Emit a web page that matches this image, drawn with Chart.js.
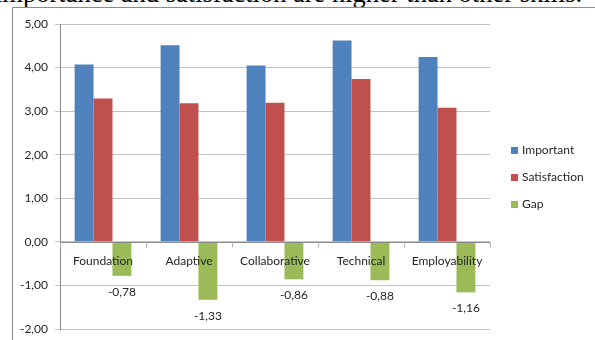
<!DOCTYPE html>
<html><head><meta charset="utf-8">
<script src="https://cdn.jsdelivr.net/npm/chart.js@4/dist/chart.umd.min.js"></script>
<style>
html,body{margin:0;padding:0;background:#fff;overflow:hidden}
#wrap{position:relative;width:595px;height:340px;overflow:hidden}
#cap{position:absolute;left:-5px;top:-20px;font:26.5px "Liberation Serif","Times New Roman",serif;line-height:26.5px;white-space:nowrap;color:#000}
canvas{position:absolute;left:0;top:0}
</style></head><body>
<div id="wrap"><div id="cap">importance and satisfaction are higher than other skills.</div><canvas id="c" width="595" height="340"></canvas></div>
<script>
const categories = ['Foundation', 'Adaptive', 'Collaborative', 'Technical', 'Employability'];
const important = [4.07, 4.51, 4.05, 4.62, 4.24];
const satisfaction = [3.29, 3.18, 3.19, 3.74, 3.08];
const gap = [-0.78, -1.33, -0.86, -0.88, -1.16];
const yTicks = [-2, -1, 0, 1, 2, 3, 4, 5];

const FONT = 'Lato, "Noto Sans", sans-serif';
const TXT = '#262626';
const fmt = v => v.toFixed(2).replace('.', ',');

const framePlugin = {
  id: 'frame',
  beforeDraw(chart) {
    const c = chart.ctx;
    c.save();
    c.strokeStyle = '#8c8c8c';
    c.lineWidth = 1;
    c.beginPath();
    c.moveTo(12.5, 340); c.lineTo(12.5, 7.5); c.lineTo(595, 7.5);
    c.stroke();
    c.restore();
  }
};

const xLabelPlugin = {
  id: 'xlabels',
  afterDatasetsDraw(chart) {
    const c = chart.ctx;
    const xs = chart.scales.x, ys = chart.scales.y;
    const y0 = ys.getPixelForValue(0);
    c.save();
    c.strokeStyle = '#8a8a8a';
    c.lineWidth = 1;
    c.beginPath();
    c.moveTo(chart.chartArea.left, Math.round(y0) + 0.5);
    c.lineTo(chart.chartArea.right, Math.round(y0) + 0.5);
    c.stroke();
    const half = (xs.getPixelForValue(1) - xs.getPixelForValue(0)) / 2;
    c.strokeStyle = '#b0b0b0';
    c.beginPath();
    for (let i = 0; i <= categories.length; i++) {
      const x = Math.round(xs.getPixelForValue(0) - half + i * 2 * half) + 0.5;
      c.moveTo(x, Math.round(y0) + 0.5);
      c.lineTo(x, Math.round(y0) + 5.5);
    }
    c.stroke();
    c.fillStyle = TXT;
    c.font = '12px ' + FONT;
    c.textAlign = 'center';
    c.textBaseline = 'middle';
    categories.forEach((lab, i) => {
      c.fillText(lab, xs.getPixelForValue(i), y0 + 19);
    });
    const meta = chart.getDatasetMeta(2);
    meta.data.forEach((bar, i) => {
      c.fillText(fmt(gap[i]), bar.x, bar.y + 16);
    });
    c.restore();
  },
  afterDraw(chart) {
    const c = chart.ctx;
    const ca = chart.chartArea;
    const mid = (ca.top + ca.bottom) / 2;
    c.save();
    c.font = '12px ' + FONT;
    c.textAlign = 'left';
    c.textBaseline = 'middle';
    chart.data.datasets.forEach((ds, i) => {
      const y = mid + (i - 1) * 27;
      c.fillStyle = ds.backgroundColor;
      c.fillRect(ca.right + 21, Math.round(y) - 3, 7, 7);
      c.fillStyle = TXT;
      c.fillText(ds.label, ca.right + 32, y + 0.5);
    });
    c.restore();
  }
};

new Chart(document.getElementById('c'), {
  type: 'bar',
  data: {
    labels: categories,
    datasets: [
      { label: 'Important', data: important, backgroundColor: '#4F81BD' },
      { label: 'Satisfaction', data: satisfaction, backgroundColor: '#C0504D' },
      { label: 'Gap', data: gap, backgroundColor: '#9BBB59' }
    ]
  },
  options: {
    responsive: false,
    animation: false,
    devicePixelRatio: 1,
    layout: { padding: { top: 24, bottom: 11, left: 0, right: 105 } },
    datasets: { bar: { categoryPercentage: 0.66, barPercentage: 1.0 } },
    plugins: { legend: { display: false }, tooltip: { enabled: false } },
    scales: {
      x: { display: false, offset: true },
      y: {
        min: -2, max: 5,
        afterFit(s) { s.width = 60; s.paddingTop = 0; s.paddingBottom = 0; },
        afterBuildTicks(s) { s.ticks = yTicks.map(v => ({ value: v })); },
        ticks: { stepSize: 1, padding: 7, color: TXT, font: { family: FONT, size: 12 }, callback: v => fmt(v) },
        grid: { color: '#c4c4c4', tickLength: 5, lineWidth: 1 },
        border: { display: true, color: '#8a8a8a' }
      }
    }
  },
  plugins: [framePlugin, xLabelPlugin]
});
</script>
</body></html>
